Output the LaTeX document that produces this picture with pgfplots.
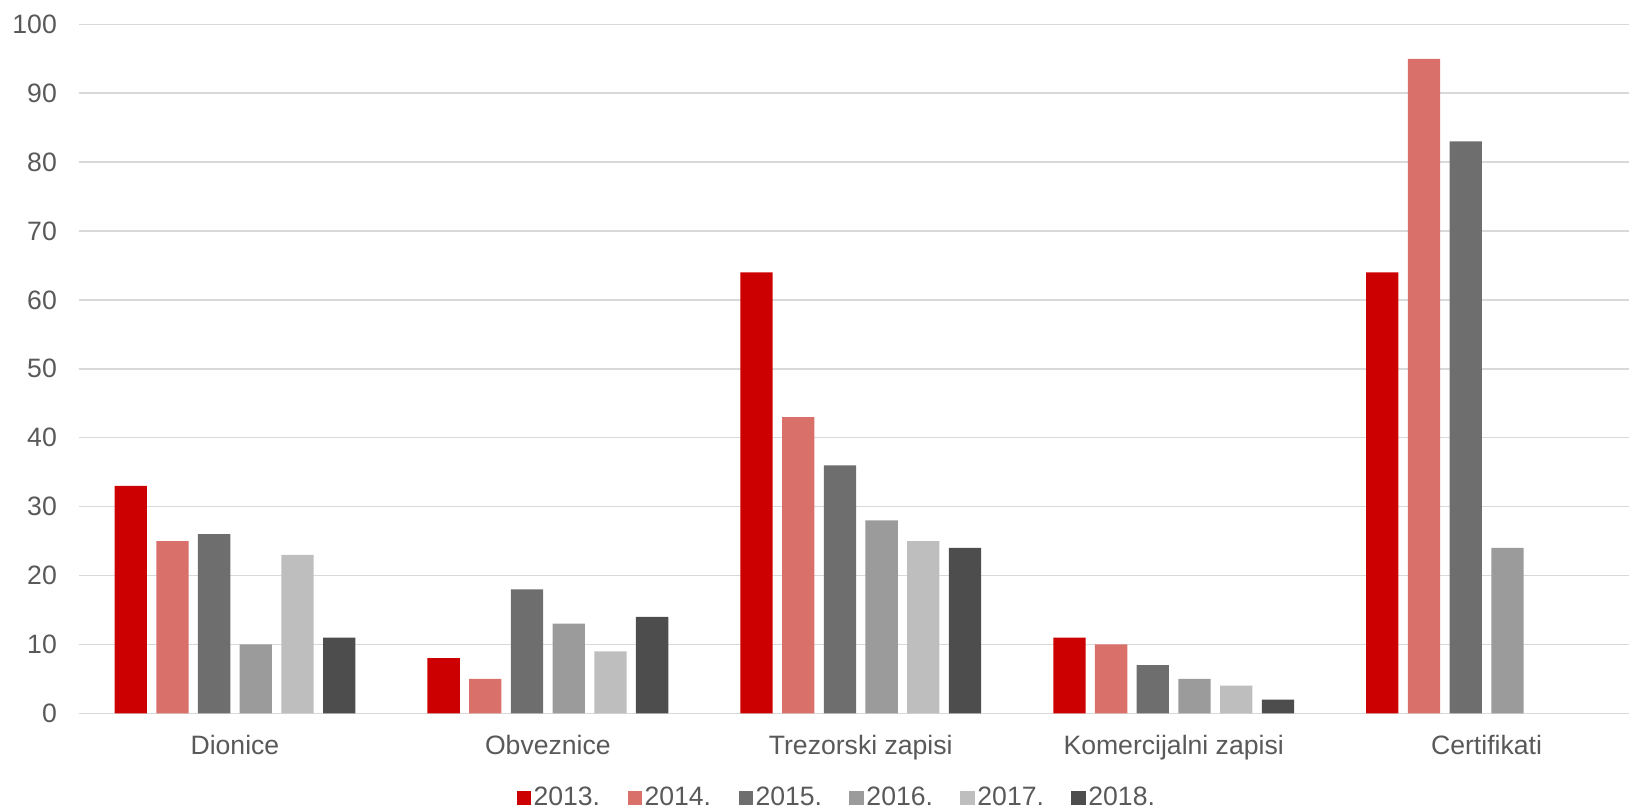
\documentclass[border=0pt]{standalone}
\usepackage{fontspec}
\setmainfont{Liberation Sans}
\usepackage{pgfplots}
\pgfplotsset{compat=1.18}
\definecolor{c13}{HTML}{CC0000}
\definecolor{c14}{HTML}{D9716A}
\definecolor{c15}{HTML}{6E6E6E}
\definecolor{c16}{HTML}{9B9B9B}
\definecolor{c17}{HTML}{BEBEBE}
\definecolor{c18}{HTML}{4D4D4D}
\definecolor{grd}{HTML}{D9D9D9}
\definecolor{txt}{HTML}{595959}
\begin{document}
\begin{tikzpicture}
\useasboundingbox (0,0) rectangle (814.5pt,405.5pt);
\begin{axis}[
  at={(39.25pt,48.85pt)}, anchor=south west,
  scale only axis, width=782.25pt, height=344.5pt,
  ybar=4.7pt, bar width=16.15pt,
  xmin=-0.5, xmax=4.5, ymin=0, ymax=100,
  xtick=data,
  xticklabels={Dionice,Obveznice,Trezorski zapisi,Komercijalni zapisi,Certifikati},
  ytick={0,10,...,100},
  ymajorgrids, grid style={grd, line width=0.75pt},
  axis line style={draw=none},
  major tick length=0pt,
  /pgf/number format/assume math mode=true,
  tick label style={font=\fontsize{13.3}{16}\selectfont, text=txt},
  yticklabel style={xshift=-7.3pt},
  xticklabel style={yshift=-7.2pt},
  legend columns=-1,
  legend style={at={(0.4848,-0.1229)}, anchor=center, draw=none, fill=none,
    font=\fontsize{13.3}{16}\selectfont, text=txt,
    /tikz/every even column/.append style={column sep=12.5pt},
    nodes={inner sep=1.2pt}},
  legend image code/.code={\path[#1, draw=none] (0pt,-3.7pt) rectangle (7.3pt,3.7pt);},
]
\addplot[fill=c13, draw=none] coordinates {(0,33) (1,8) (2,64) (3,11) (4,64)};
\addplot[fill=c14, draw=none] coordinates {(0,25) (1,5) (2,43) (3,10) (4,95)};
\addplot[fill=c15, draw=none] coordinates {(0,26) (1,18) (2,36) (3,7) (4,83)};
\addplot[fill=c16, draw=none] coordinates {(0,10) (1,13) (2,28) (3,5) (4,24)};
\addplot[fill=c17, draw=none] coordinates {(0,23) (1,9) (2,25) (3,4)};
\addplot[fill=c18, draw=none] coordinates {(0,11) (1,14) (2,24) (3,2)};
\legend{2013.,2014.,2015.,2016.,2017.,2018.}
\end{axis}
\end{tikzpicture}
\end{document}
